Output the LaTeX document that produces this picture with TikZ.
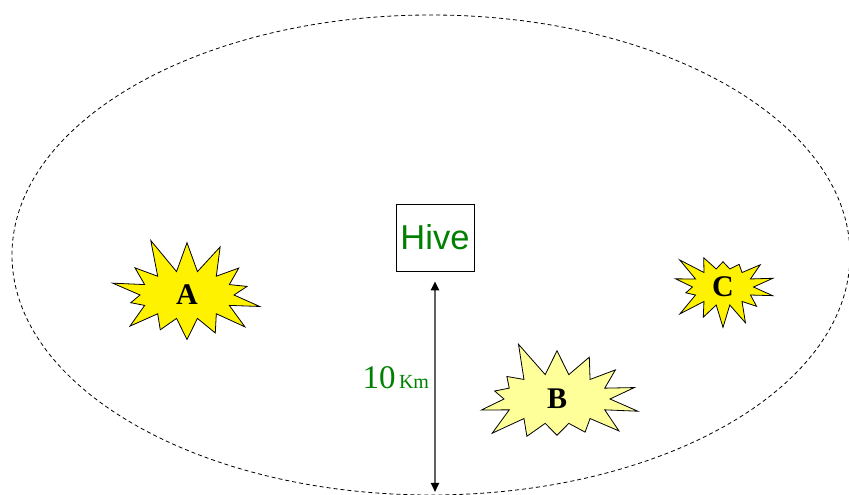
\documentclass[tikz,border=0pt]{standalone}
\usepackage{fontspec}
\setmainfont{Liberation Serif}
\setsansfont{Liberation Sans}
\usetikzlibrary{arrows.meta, shapes.symbols}
\definecolor{hivegreen}{RGB}{0,128,0}
\definecolor{paleyellow}{RGB}{255,255,153}
\tikzset{
  field/.style   = {draw, dash pattern=on 4pt off 3pt, line width=0.8pt},
  hivebox/.style = {draw, line width=0.7pt, align=center, text=hivegreen,
                    font=\sffamily\fontsize{34.5}{36}\selectfont,
                    minimum width=78pt, minimum height=67pt, inner sep=0pt},
  flower/.style  = {draw, line width=0.8pt, starburst, starburst points=14,
                    shape border rotate=8,
                    font=\bfseries\fontsize{30}{32}\selectfont, inner sep=0pt},
  dist/.style    = {{Triangle[length=9pt,width=8pt,color=black]}-{Triangle[length=9pt,width=8pt,color=black]},
                    line width=2pt, gray!75!black},
}
\begin{document}
\begin{tikzpicture}[x=1pt, y=1pt]
  \useasboundingbox (0,0) rectangle (849,495);
  \coordinate (centre) at (431,240);
  \draw[field] (centre) ellipse [x radius=419, y radius=240];

  \node[hivebox] (hive) at (435,257.5) {Hive};
  \coordinate (edge) at (435,3);
  \draw[dist, shorten <=10pt] (hive) -- (edge)
    node[pos=0.48, left=5pt, text=hivegreen, inner sep=0pt] (km)
    {{\fontsize{33}{34}\selectfont 10}\,\,{\fontsize{20}{22}\selectfont Km}};

  \node[flower, fill=yellow, minimum width=170pt, minimum height=124pt,
        starburst point height=38pt, random starburst=11] (a) at (187,200) {A};
  \node[flower, fill=paleyellow, minimum width=182pt, minimum height=126pt,
        starburst point height=38pt, random starburst=5] (b) at (557,96) {B};
  \node[flower, fill=yellow, minimum width=113pt, minimum height=89pt,
        starburst point height=26pt, random starburst=23] (c) at (723,208) {C};
\end{tikzpicture}
\end{document}
